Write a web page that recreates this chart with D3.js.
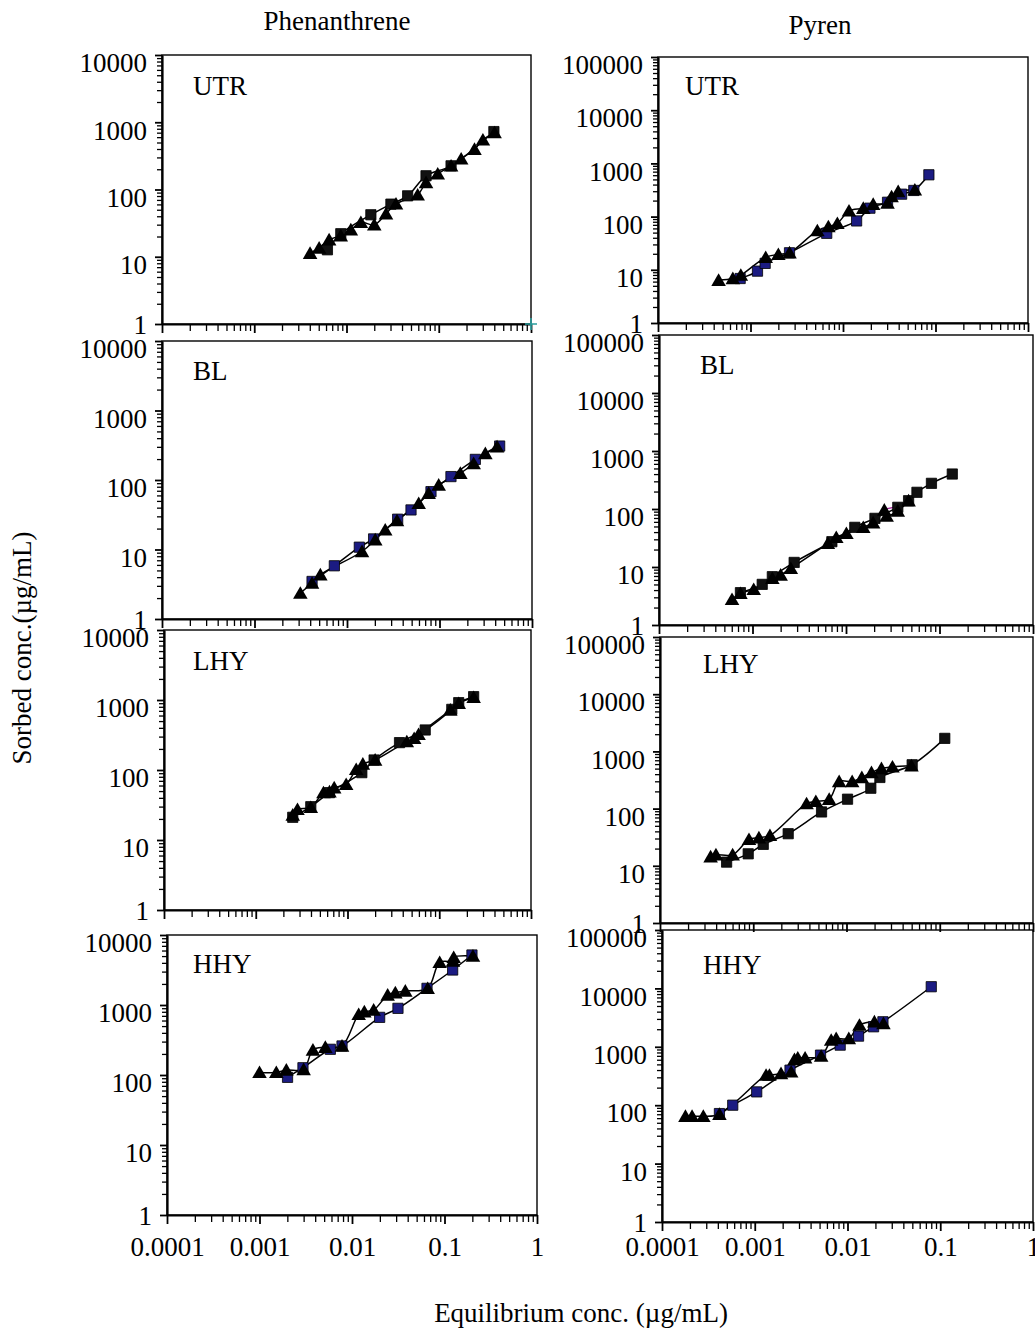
<!DOCTYPE html>
<html><head><meta charset="utf-8">
<script src="https://cdn.jsdelivr.net/npm/d3@7"></script>
<style>
body{margin:0;background:#fff}
svg{display:block}
text{font-family:"Liberation Serif","Times New Roman",serif;fill:#000}
</style>
</head><body>
<svg id="c" width="1035" height="1329" font-family="Liberation Serif, Times New Roman, serif"></svg>
<script>
// ---------- data ----------
const compounds = ["Phenanthrene", "Pyren"];
const sorbents = ["UTR", "BL", "LHY", "HHY"];
const xTickValues = [0.0001, 0.001, 0.01, 0.1, 1];
const xTickLabels = ["0.0001", "0.001", "0.01", "0.1", "1"];
const yTickLabelsPhen = ["1", "10", "100", "1000", "10000"];
const yTickLabelsPyr = ["1", "10", "100", "1000", "10000", "100000"];
const yTitle = "Sorbed conc.(\u00b5g/mL)";
const xTitle = "Equilibrium conc. (\u00b5g/mL)";

// [equilibrium conc, sorbed conc]
const phenUTR_tri = [[0.00403,11.3],[0.00505,13.5],[0.00648,17.9],[0.00867,20.5],[0.01114,25.2],[0.01432,32.4],[0.0200,29.9],[0.0268,43.5],[0.0344,61.2],[0.0591,83.4],[0.0728,127],[0.0975,171],[0.136,225],[0.175,285],[0.244,397],[0.301,547],[0.403,703]];
const phenUTR_sq  = [[0.00621,12.7],[0.00867,22.0],[0.01837,42.1],[0.0303,60.6],[0.046,80.5],[0.0728,160],[0.136,225],[0.396,727]];
const phenBL_tri  = [[0.00313,2.36],[0.00419,3.29],[0.00515,4.33],[0.01453,9.36],[0.0202,13.8],[0.0259,19.2],[0.0347,26.1],[0.0596,46.2],[0.0764,64.4],[0.098,84.8],[0.168,125],[0.234,173],[0.313,241],[0.419,301]];
const phenBL_sq   = [[0.00419,3.47],[0.00730,5.83],[0.01359,10.8],[0.0194,14.2],[0.0353,27.3],[0.0492,37.1],[0.0809,68.0],[0.133,112],[0.244,198],[0.447,308]];
const phenLHY_tri = [[0.00253,22.8],[0.00285,27.4],[0.00398,29.3],[0.00547,47.5],[0.00636,49.0],[0.00716,55.9],[0.00967,62.4],[0.01244,102],[0.01470,122],[0.0200,139],[0.0443,254],[0.0533,283],[0.0595,323],[0.132,719],[0.163,896],[0.237,1092]];
const phenLHY_sq  = [[0.00253,21.1],[0.00398,29.9],[0.00636,47.5],[0.01432,91.6],[0.0195,139],[0.0369,246],[0.0703,373],[0.137,735],[0.163,916],[0.237,1116]];
const phenHHY_tri = [[0.001,109],[0.00152,109],[0.00195,118],[0.00300,120],[0.00378,228],[0.00515,249],[0.00780,260],[0.01181,735],[0.01359,803],[0.01714,848],[0.0243,1390],[0.0294,1500],[0.0377,1585],[0.0658,1730],[0.0887,4070],[0.1236,4250],[0.1257,4800],[0.203,5010]];
const phenHHY_sq  = [[0.00201,92.6],[0.00295,127],[0.00583,233],[0.00780,260],[0.0199,666],[0.0314,896],[0.0647,1730],[0.1225,3162],[0.198,5180]];

const pyrUTR_tri = [[0.000452,6.38],[0.000644,6.86],[0.000786,7.93],[0.00146,17.1],[0.00200,19.5],[0.00264,20.9],[0.00528,54.4],[0.00695,64.7],[0.00869,74.8],[0.01161,128],[0.01657,144],[0.0212,171],[0.0303,179],[0.0335,238],[0.0395,296],[0.0598,319]];
const pyrUTR_sq  = [[0.000773,6.86],[0.00119,9.44],[0.00144,13.2],[0.00264,20.9],[0.00667,48.5],[0.01403,82.9],[0.01954,144],[0.0303,186],[0.0430,264],[0.0583,310],[0.0848,611]];
const pyrBL_tri  = [[0.000604,2.77],[0.000743,3.52],[0.00103,4.12],[0.00163,6.38],[0.00200,7.28],[0.00257,9.48],[0.00640,25.6],[0.00787,32.5],[0.0101,38.1],[0.0153,48.3],[0.0195,58.1],[0.0257,96.1],[0.0272,75.7],[0.0358,92.4],[0.0467,139]];
const pyrBL_sq   = [[0.000743,3.61],[0.00127,5.02],[0.00163,6.81],[0.00279,12.0],[0.00706,27.3],[0.01242,48.3],[0.0204,69.0],[0.0358,107],[0.0467,139],[0.0574,194],[0.0820,277],[0.137,401]];
const pyrBL_trend = [[0.0257,100],[0.0358,112],[0.0467,139]];
const pyrLHY_tri = [[0.000349,14.4],[0.000398,15.6],[0.000601,15.6],[0.000900,29.0],[0.00115,31.0],[0.00151,34.0],[0.00373,122],[0.00469,134],[0.00652,146],[0.00834,298],[0.01150,298],[0.01460,350],[0.01852,428],[0.0237,503],[0.0311,538],[0.0497,561]];
const pyrLHY_sq  = [[0.000518,11.6],[0.000883,16.2],[0.00128,23.7],[0.00237,36.4],[0.00540,87.4],[0.01026,146],[0.01823,227],[0.0228,350],[0.0506,584],[0.1132,1690]];
const pyrHHY_tri = [[0.000179,64.8],[0.000211,64.8],[0.000279,64.8],[0.000416,70.1],[0.001325,327],[0.00144,327],[0.00192,349],[0.00247,373],[0.00268,606],[0.00291,648],[0.00349,648],[0.00520,692],[0.00667,1301],[0.00755,1390],[0.01033,1390],[0.01346,2352],[0.0195,2683],[0.0244,2512]];
const pyrHHY_sq  = [[0.000416,71.9],[0.000579,100],[0.00105,169],[0.00240,398],[0.00512,720],[0.00834,1068],[0.01315,1524],[0.0191,2202],[0.0241,2683],[0.080,10680]];

const triSeries = [[phenUTR_tri, phenBL_tri, phenLHY_tri, phenHHY_tri],[pyrUTR_tri, pyrBL_tri, pyrLHY_tri, pyrHHY_tri]];
const sqSeries  = [[phenUTR_sq, phenBL_sq, phenLHY_sq, phenHHY_sq],[pyrUTR_sq, pyrBL_sq, pyrLHY_sq, pyrHHY_sq]];

// ---------- layout / style ----------
const boxes = [
  [ {l:162,r:531,t:55,b:324,lx:193,ly:95},
    {l:162,r:532,t:341,b:619,lx:193,ly:380},
    {l:164,r:531,t:630,b:910,lx:193,ly:670},
    {l:167,r:537,t:935,b:1215,lx:193,ly:973} ],
  [ {l:658,r:1028,t:57,b:323,lx:685,ly:95},
    {l:659,r:1033,t:335,b:625,lx:700,ly:374},
    {l:660,r:1033,t:637,b:923,lx:703,ly:673},
    {l:662,r:1033,t:930,b:1222,lx:703,ly:974} ]
];
const yMax = [10000, 100000];
const NAVY = "#1b1b82", BLK = "#111";
const sqFill = [[BLK, NAVY, BLK, NAVY],[NAVY, BLK, BLK, NAVY]];
const FS = 27;
const FONT = "Liberation Serif, Times New Roman, serif";

const svg = d3.select("#c");
svg.append("rect").attr("width",1035).attr("height",1329).attr("fill","#fff");

function minorTicks(lo, hi){
  const out=[];
  for(let e=lo;e<hi;e++) for(let m=2;m<=9;m++) out.push(m*Math.pow(10,e));
  return out;
}

const line = d3.line().curve(d3.curveCatmullRom.alpha(0.5));
const triSym = d3.symbol().type(d3.symbolTriangle).size(92);
const sqSym = d3.symbol().type(d3.symbolSquare).size(105);

compounds.forEach((comp, ci) => {
  const yLabels = ci === 0 ? yTickLabelsPhen : yTickLabelsPyr;
  const yVals = yLabels.map(Number);
  const nDec = yLabels.length - 1;
  sorbents.forEach((sorb, ri) => {
    const B = boxes[ci][ri];
    const x = d3.scaleLog().domain([1e-4, 1]).range([B.l, B.r]);
    const y = d3.scaleLog().domain([1, yMax[ci]]).range([B.b, B.t]);
    const g = svg.append("g");

    // frame
    g.append("rect").attr("x",B.l).attr("y",B.t).attr("width",B.r-B.l).attr("height",B.b-B.t)
      .attr("fill","none").attr("stroke","#000").attr("stroke-width",1.4);

    // y minor ticks
    const yMin = g.append("g").attr("transform",`translate(${B.l},0)`)
      .call(d3.axisLeft(y).tickValues(minorTicks(0,nDec)).tickSize(5).tickSizeOuter(0).tickFormat(""));
    yMin.select(".domain").remove();
    yMin.selectAll("line").attr("stroke-width",1.3);
    // y major
    const yAx = g.append("g").attr("transform",`translate(${B.l},0)`)
      .call(d3.axisLeft(y).tickValues(yVals).tickSize(7).tickSizeOuter(0).tickPadding(8)
        .tickFormat((d,i)=>yLabels[i]));
    yAx.attr("font-family", FONT).attr("font-size", FS);
    yAx.select(".domain").attr("stroke-width",2.2);
    yAx.selectAll("line").attr("stroke-width",1.8);
    yAx.selectAll("text").attr("font-size",FS).attr("font-family",FONT)
      .attr("dy",d => d===1 ? "0.34em" : "0.62em");

    // x minor ticks
    const xMin = g.append("g").attr("transform",`translate(0,${B.b})`)
      .call(d3.axisBottom(x).tickValues(minorTicks(-4,0)).tickSize(7).tickSizeOuter(0).tickFormat(""));
    xMin.select(".domain").remove();
    xMin.selectAll("line").attr("stroke-width",1.3);
    const last = ri === sorbents.length-1;
    const xAx = g.append("g").attr("transform",`translate(0,${B.b})`)
      .call(d3.axisBottom(x).tickValues(xTickValues).tickSize(9).tickSizeOuter(0)
        .tickPadding(1256 - B.b - 9 - 19.2)
        .tickFormat((d,i)=> last ? xTickLabels[i] : ""));
    xAx.attr("font-family", FONT).attr("font-size", FS);
    xAx.select(".domain").attr("stroke-width",2.2);
    xAx.selectAll("line").attr("stroke-width",1.8);
    xAx.selectAll("text").attr("font-size",FS).attr("font-family",FONT);

    // panel label
    g.append("text").attr("x",B.lx).attr("y",B.ly).attr("font-size",FS).attr("font-family",FONT).text(sorb);

    // series
    const tri = triSeries[ci][ri], sq = sqSeries[ci][ri];
    [tri, sq].forEach(s => {
      g.append("path").attr("d", line(s.map(d => [x(d[0]), y(d[1])])))
        .attr("fill","none").attr("stroke","#000").attr("stroke-width",1.5);
    });
    if (ci === 1 && ri === 1) {
      g.append("path").attr("d", line(pyrBL_trend.map(d => [x(d[0]), y(d[1])])))
        .attr("fill","none").attr("stroke","#a0209a").attr("stroke-width",1.3);
    }
    g.selectAll(null).data(sq).join("path")
      .attr("transform", d => `translate(${x(d[0])},${y(d[1])})`)
      .attr("d", sqSym()).attr("fill", sqFill[ci][ri]).attr("stroke","#000").attr("stroke-width",0.8);
    g.selectAll(null).data(tri).join("path")
      .attr("transform", d => `translate(${x(d[0])},${y(d[1])+1.5})`)
      .attr("d", triSym()).attr("fill","#000");
  });
});

// column titles
svg.append("text").attr("x",337).attr("y",30).attr("text-anchor","middle").attr("font-size",FS).attr("font-family",FONT).text(compounds[0]);
svg.append("text").attr("x",820).attr("y",34).attr("text-anchor","middle").attr("font-size",FS).attr("font-family",FONT).text(compounds[1]);
// axis titles
svg.append("text").attr("transform","translate(31,648) rotate(-90)").attr("text-anchor","middle").attr("font-size",FS).attr("font-family",FONT).text(yTitle);
svg.append("text").attr("x",581).attr("y",1322).attr("text-anchor","middle").attr("font-size",FS).attr("font-family",FONT).text(xTitle);
// small teal cross at corner of first panel
svg.append("path").attr("d","M525,324H537M531,318V330").attr("stroke","#2a9d9d").attr("stroke-width",1.6);
</script>
</body></html>
